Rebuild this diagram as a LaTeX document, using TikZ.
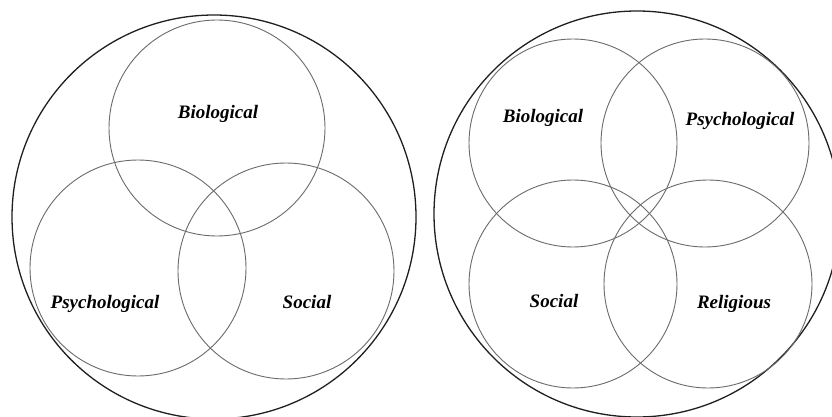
\documentclass[tikz,border=0pt]{standalone}
\usepackage{fontspec}
\setmainfont{Liberation Serif}
\begin{document}
\begin{tikzpicture}[x=1pt,y=-1pt,
  outer/.style={circle,draw=black!88,line width=1.3pt,inner sep=0pt},
  inner/.style={circle,draw=black!58,line width=0.9pt,inner sep=0pt},
  lbl/.style={anchor=base,inner sep=0pt,font=\fontsize{19}{22}\selectfont\bfseries\itshape}]
\useasboundingbox (0,0) rectangle (832,417);
\clip (0,0) rectangle (832,417);
\fill[white] (0,0) rectangle (832,417);
% left panel
\node[outer,minimum size=404pt] (L) at (214,217) {};
\node[inner,minimum size=216pt] (Lbio) at (217,128) {};
\node[inner,minimum size=216pt] (Lpsy) at (138,268) {};
\node[inner,minimum size=216pt] (Lsoc) at (286,271) {};
\node[lbl] (tLbio) at (218,119) {Biological};
\node[lbl] (tLpsy) at (105,308) {Psychological};
\node[lbl] (tLsoc) at (307,308) {Social};
% right panel
\node[outer,minimum size=406pt] (R) at (637,214) {};
\node[inner,minimum size=208pt] (Rbio) at (573,143) {};
\node[inner,minimum size=208pt] (Rpsy) at (705,143) {};
\node[inner,minimum size=208pt] (Rsoc) at (573,284) {};
\node[inner,minimum size=208pt] (Rrel) at (708,284) {};
\node[lbl] (tRbio) at (543,123) {Biological};
\node[lbl] (tRpsy) at (740,126) {Psychological};
\node[lbl] (tRsoc) at (554,307) {Social};
\node[lbl] (tRrel) at (734,308) {Religious};
\end{tikzpicture}
\end{document}
